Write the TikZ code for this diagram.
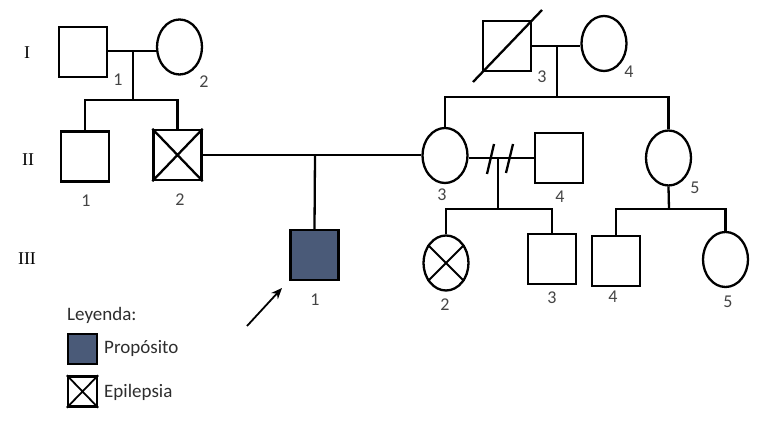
\documentclass[tikz,border=0pt]{standalone}
\usepackage{fontspec}
\setmainfont{Carlito}
\newfontfamily\romfont{Liberation Serif}
\usetikzlibrary{shapes.geometric,arrows.meta}
\definecolor{fillblue}{HTML}{4A5A78}
\definecolor{numgray}{HTML}{444444}
\definecolor{legtext}{HTML}{2E2E2E}
\tikzset{
  male/.style={draw,rectangle,line width=2.3pt,minimum width=48pt,minimum height=50pt,inner sep=0pt},
  female/.style={draw,ellipse,line width=2.3pt,minimum width=45pt,minimum height=55pt,inner sep=0pt},
  lnk/.style={line width=2.3pt},
  num/.style={font=\fontsize{18}{18}\selectfont,text=numgray,inner sep=0pt},
  gen/.style={font=\romfont\fontsize{18}{18}\selectfont,inner sep=0pt},
  leg/.style={font=\fontsize{19}{19}\selectfont,text=legtext,inner sep=0pt,anchor=west},
}
\begin{document}
\begin{tikzpicture}[x=1pt,y=-1pt]
\useasboundingbox (0,0) rectangle (779,443);
% generation labels
\node[gen] (gI) at (27,53) {I};
\node[gen] (gII) at (28,160) {II};
\node[gen] (gIII) at (27,259) {III};
% generation I
\node[male] (I1) at (83,52) {};
\node[female] (I2) at (179.5,47) {};
\node[male] (I3) at (507,46) {};
\node[female] (I4) at (604,43.5) {};
% generation II
\node[male] (II1) at (85,156.5) {};
\node[male] (II2) at (177.5,155) {};
\node[female] (II3) at (445,155.5) {};
\node[male] (II4) at (559,158) {};
\node[female] (II5) at (668.5,158) {};
% generation III
\node[male,fill=fillblue] (III1) at (314.5,255) {};
\node[female] (III2) at (446,263) {};
\node[male] (III3) at (552,259) {};
\node[male] (III4) at (616,261) {};
\node[female] (III5) at (725.5,259.5) {};
% markings
\draw[lnk] (II2.north west) -- (II2.south east) (II2.north east) -- (II2.south west);
\draw[lnk,line width=1.8pt] (III2.135) -- (III2.-45) (III2.45) -- (III2.-135);
\draw[lnk] ([shift={(-34,36)}]I3.center) -- ([shift={(35,-36)}]I3.center);
% couple I1-I2
\coordinate (m1) at (133,51);
\coordinate (s1) at (133,100);
\draw[lnk] (I1.east |- m1) -- (I2.west |- m1);
\draw[lnk] (m1) -- (s1);
\draw[lnk] (II1.north) |- (s1) -| (II2.north);
% couple I3-I4
\coordinate (m2) at (557,46);
\coordinate (s2) at (557,97);
\draw[lnk] (I3.east |- m2) -- (I4.west |- m2);
\draw[lnk] (m2) -- (s2);
\draw[lnk] (II3.north) |- (s2) -| (II5.north);
% couple II2-II3
\coordinate (m3) at (315,155);
\draw[lnk] (II2.east |- m3) -- (II3.west |- m3);
\draw[lnk] (m3) -- (III1.north);
% couple II3-II4 (divorced)
\coordinate (m4) at (498,158);
\coordinate (s3) at (498,209);
\draw[lnk] (II3.east |- m4) -- (II4.west |- m4);
\draw[lnk] ([shift={(-11,16)}]m4) -- ([shift={(-4,-14)}]m4);
\draw[lnk] ([shift={(8,15)}]m4) -- ([shift={(15,-14)}]m4);
\draw[lnk] (m4) -- (s3);
\draw[lnk] (III2.north) |- (s3) -| (III3.north);
% II5 children
\coordinate (s4) at (669,209);
\draw[lnk] (II5.south) -- (s4);
\draw[lnk] (III4.north) |- (s4) -| (III5.north);
% numbers
\node[num] (nI1) at (118,80) {1};
\node[num] (nI2) at (204,82) {2};
\node[num] (nI3) at (542,77) {3};
\node[num] (nI4) at (629,72) {4};
\node[num] (nII1) at (86,201) {1};
\node[num] (nII2) at (180,200) {2};
\node[num] (nII3) at (442,195) {3};
\node[num] (nII4) at (560,197) {4};
\node[num] (nII5) at (695,188) {5};
\node[num] (nIII1) at (315,300) {1};
\node[num] (nIII2) at (445,305) {2};
\node[num] (nIII3) at (552,298) {3};
\node[num] (nIII4) at (613,297) {4};
\node[num] (nIII5) at (728,302) {5};
% arrow to proband
\coordinate (arrS) at (247,326);
\coordinate (arrE) at (282,288);
\draw[line width=1.8pt,-{Stealth[length=11pt,width=9pt]}] (arrS) -- (arrE);
% legend
\node[leg] (legT) at (67,315) {Leyenda:};
\node[draw,rectangle,line width=2.3pt,fill=fillblue,minimum width=29pt,minimum height=30pt,inner sep=0pt] (legP) at (82.5,349) {};
\node[leg] (legPt) at (104,348) {Propósito};
\node[draw,rectangle,line width=2.3pt,minimum width=29pt,minimum height=30pt,inner sep=0pt] (legE) at (82.5,391.5) {};
\draw[line width=1.8pt] (legE.north west) -- (legE.south east) (legE.north east) -- (legE.south west);
\node[leg] (legEt) at (104,392) {Epilepsia};
\end{tikzpicture}
\end{document}
